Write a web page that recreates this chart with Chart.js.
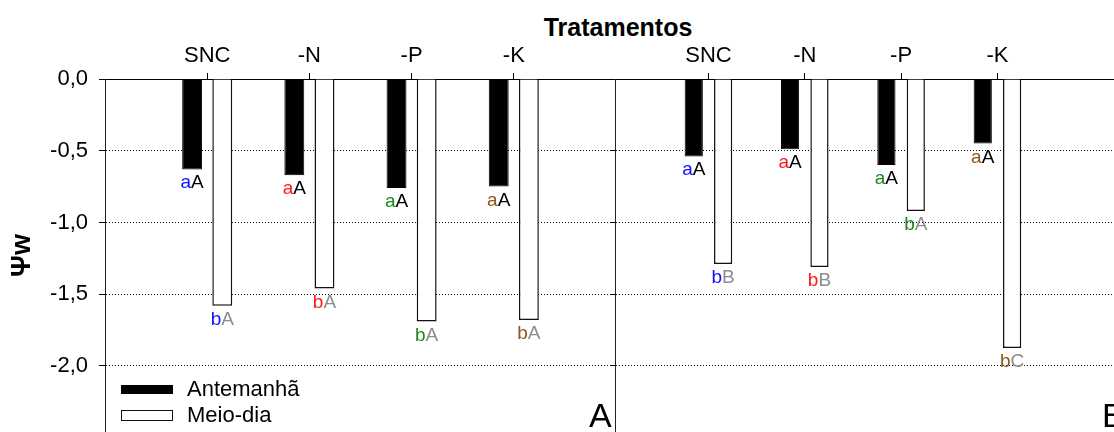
<!DOCTYPE html>
<html>
<head>
<meta charset="utf-8">
<script src="https://cdn.jsdelivr.net/npm/chart.js@4/dist/chart.umd.min.js"></script>
<style>
    html, body { margin:0; padding:0; background:#fff; width:1114px; height:432px; overflow:hidden; }
    body { position:relative; font-family:"Liberation Sans", Arial, sans-serif; }
    #chartA { position:absolute; left:0; top:0; }
    #chartB { position:absolute; left:600px; top:0; }
    .title { position:absolute; left:468px; width:300px; top:15px; text-align:center; font-weight:bold; font-size:25px; line-height:25px; }
    .panel { position:absolute; top:398px; font-size:34px; line-height:34px; }
</style>
</head>
<body>
<div class="title">Tratamentos</div>
<canvas id="chartA" width="616" height="432"></canvas>
<canvas id="chartB" width="540" height="432"></canvas>
<div class="panel" style="left:589px">A</div>
<div class="panel" style="left:1102px">B</div>
<script>
// tratamentos (eixo x no topo)
let treatments = ["SNC", "-N", "-P", "-K"];
let treatPos = [1, 2, 3, 4];
let yTicks = [0, -0.5, -1, -1.5, -2];

// painel A
let morningA = [-0.63, -0.67, -0.76, -0.75];
let noonA = [-1.58, -1.46, -1.69, -1.68];
let lettersMorningA = ["aA", "aA", "aA", "aA"];
let lettersNoonA = ["bA", "bA", "bA", "bA"];

// painel B
let morningB = [-0.54, -0.49, -0.60, -0.45];
let noonB = [-1.29, -1.31, -0.92, -1.875];
let lettersMorningB = ["aA", "aA", "aA", "aA"];
let lettersNoonB = ["bB", "bB", "bA", "bC"];

let treatColors = ["#1010ff", "#ff1a1a", "#1a8a1a", "#8f561e"];

Chart.defaults.font.family = '"Liberation Sans", Arial, sans-serif';
Chart.defaults.color = "#000";

function points(vals){
    let arr = new Array();
    for(let i=0; i<vals.length; i++){
        arr.push({x:treatPos[i], y:vals[i]});
    }
    return arr;
}

// letras de significancia abaixo de cada barra
let letterPlugin = {
    id:"letters",
    afterDatasetsDraw:function(chart){
        let ctx = chart.ctx;
        ctx.save();
        ctx.font = '19px "Liberation Sans", Arial, sans-serif';
        ctx.textAlign = "left";
        ctx.textBaseline = "alphabetic";
        chart.data.datasets.forEach(function(ds, i){
            let meta = chart.getDatasetMeta(i);
            meta.data.forEach(function(bar, j){
                let s = ds.letters[j];
                let w1 = ctx.measureText(s[0]).width;
                let w2 = ctx.measureText(s[1]).width;
                let x = bar.x - (w1 + w2)/2;
                let y = bar.y + 19;
                ctx.fillStyle = treatColors[j];
                ctx.fillText(s[0], x, y);
                ctx.fillStyle = ds.letterColor;
                ctx.fillText(s[1], x + w1, y);
            });
        });
        ctx.restore();
    }
};

let legendPlugin = {
    id:"cornerLegend",
    afterDraw:function(chart){
        let ctx = chart.ctx;
        let rows = [{y:385, h:9, base:395.5}, {y:410, h:11, base:422}];
        ctx.save();
        ctx.font = '22px "Liberation Sans", Arial, sans-serif';
        ctx.textBaseline = "alphabetic";
        chart.data.datasets.forEach(function(ds, i){
            let r = rows[i];
            ctx.fillStyle = ds.backgroundColor;
            ctx.fillRect(121, r.y, 52, r.h);
            ctx.strokeStyle = ds.borderColor;
            ctx.lineWidth = 1;
            ctx.strokeRect(121.5, r.y + 0.5, 51, r.h - 1);
            ctx.fillStyle = "#000";
            ctx.fillText(ds.label, 187, r.base);
        });
        ctx.restore();
    }
};

function makeChart(id, morning, noon, lm, ln, opt){
    return new Chart(document.getElementById(id), {
        type:"bar",
        plugins: opt.legend ? [letterPlugin, legendPlugin] : [letterPlugin],
        data:{
            datasets:[
                {
                    label:"Antemanhã",
                    data:points(morning),
                    backgroundColor:"#000",
                    borderColor:"#000",
                    borderWidth:1,
                    letters:lm,
                    letterColor:"#000"
                },
                {
                    label:"Meio-dia",
                    data:points(noon),
                    backgroundColor:"#fff",
                    borderColor:"#111",
                    borderWidth:1.5,
                    letters:ln,
                    letterColor:"#8c8c8c"
                }
            ]
        },
        options:{
            responsive:false,
            animation:false,
            layout:{ padding:0 },
            categoryPercentage:opt.catPct,
            barPercentage:opt.barPct,
            plugins:{
                legend:{ display:false },
                tooltip:{ enabled:false }
            },
            scales:{
                x:{
                    type:"linear",
                    position:"top",
                    bounds:"data",
                    offset:false,
                    min:opt.xmin,
                    max:opt.xmax,
                    afterBuildTicks:function(s){
                        s.ticks = treatPos.map(function(v){ return {value:v}; });
                    },
                    afterFit:function(s){
                        s.height = 79;
                        s.paddingLeft = 0; s.paddingRight = 0;
                    },
                    ticks:{
                        padding:4,
                        font:{ size:22 },
                        maxRotation:0,
                        autoSkip:false,
                        callback:function(v, i){ return treatments[i]; }
                    },
                    grid:{
                        offset:false,
                        drawOnChartArea:false,
                        drawTicks:true,
                        tickLength:6,
                        tickColor:"#000",
                        color:"#000"
                    },
                    border:{ display:true, color:"#000", width:1 }
                },
                y:{
                    type:"linear",
                    bounds:"data",
                    min:-2.46,
                    max:0,
                    afterBuildTicks:function(s){
                        s.ticks = yTicks.map(function(v){ return {value:v}; });
                    },
                    afterFit:function(s){
                        s.width = opt.yWidth;
                        s.paddingTop = 0; s.paddingBottom = 0;
                    },
                    ticks:{
                        display:opt.yLabels,
                        padding:11,
                        font:{ size:22 },
                        callback:function(v){ return v.toFixed(1).replace(".", ","); }
                    },
                    title:{
                        display:opt.yLabels,
                        text:"Ψw",
                        font:{ size:27, weight:"bold" },
                        padding:{ top:6, bottom:0 }
                    },
                    grid:{
                        color:"#000",
                        lineWidth:1,
                        drawTicks:true,
                        tickLength:opt.tickLen,
                        tickColor:"#000",
                        tickBorderDash:[]
                    },
                    border:{ display:true, color:"#222", width:1, dash:[1, 2] }
                }
            }
        }
    });
}

let chartA = makeChart("chartA", morningA, noonA, lettersMorningA, lettersNoonA,
    { xmin:0, xmax:5, catPct:0.59, barPct:0.66, yWidth:105, yLabels:true, tickLen:6, legend:true });
let chartB = makeChart("chartB", morningB, noonB, lettersMorningB, lettersNoonB,
    { xmin:0.03, xmax:5.48, catPct:0.61, barPct:0.62, yWidth:15, yLabels:false, tickLen:5, legend:false });
</script>
</body>
</html>
